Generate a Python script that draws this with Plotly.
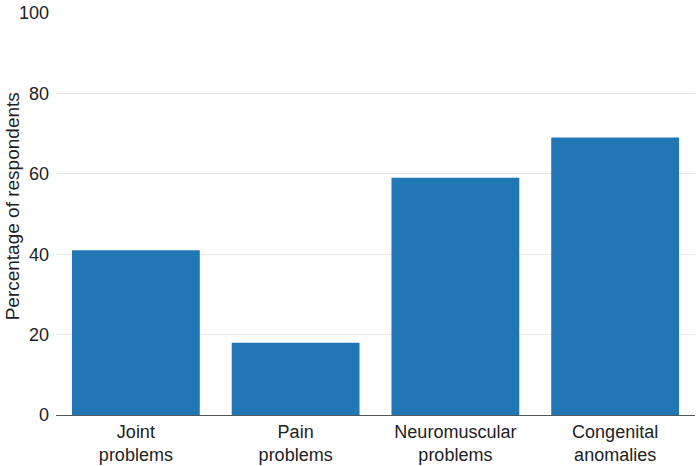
import plotly.graph_objects as go

categories = ["Joint<br>problems", "Pain<br>problems", "Neuromuscular<br>problems", "Congenital<br>anomalies"]
percentages = [41, 18, 59, 69]
y_ticks = [0, 20, 40, 60, 80, 100]

fig = go.Figure(go.Bar(
    x=categories,
    y=percentages,
    marker=dict(color="#2077b4", line=dict(width=0)),
))

fig.update_layout(
    width=700, height=466,
    margin=dict(l=56, r=5, t=12.5, b=50.5, autoexpand=False),
    paper_bgcolor="white",
    plot_bgcolor="white",
    bargap=0.2,
    showlegend=False,
    font=dict(family="Liberation Sans, Arial, sans-serif", size=18, color="#222"),
)
fig.update_xaxes(
    showline=True, linecolor="#555", linewidth=1,
    ticks="", automargin=False, ticklabelstandoff=0,
)
fig.update_yaxes(
    range=[0, 100], tickvals=y_ticks,
    showgrid=True, gridcolor="#e8e8e8", gridwidth=1,
    zeroline=False, ticks="", ticklabelstandoff=6, automargin=False,
)

# y-axis title drawn as an annotation to place it like the reference
fig.add_annotation(
    text="Percentage of respondents", textangle=-90,
    xref="paper", yref="paper", x=(12 - 56) / 639, y=0.519,
    xanchor="center", yanchor="middle", showarrow=False,
    font=dict(size=19),
)

# drop the default 8px body margin so the figure fills the window exactly
fig.write_html(
    "out.html",
    config={"displayModeBar": False},
    post_script="document.body.style.margin = '0';",
)
